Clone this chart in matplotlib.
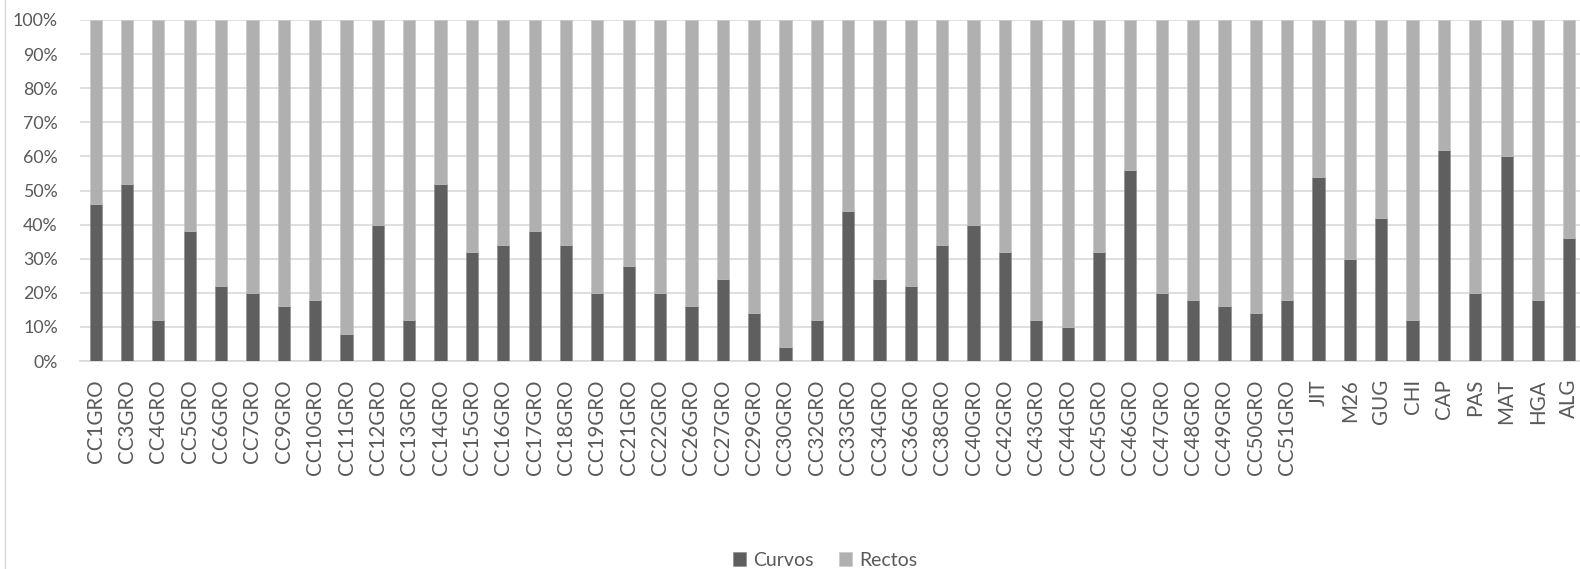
import matplotlib
matplotlib.use('Agg')

import numpy as np
import matplotlib.pyplot as plt
from matplotlib.lines import Line2D

# Categories and share of curved (Curvos) vs straight (Rectos), in percent
categories = ['CC1GRO', 'CC3GRO', 'CC4GRO', 'CC5GRO', 'CC6GRO', 'CC7GRO', 'CC9GRO',
              'CC10GRO', 'CC11GRO', 'CC12GRO', 'CC13GRO', 'CC14GRO', 'CC15GRO',
              'CC16GRO', 'CC17GRO', 'CC18GRO', 'CC19GRO', 'CC21GRO', 'CC22GRO',
              'CC26GRO', 'CC27GRO', 'CC29GRO', 'CC30GRO', 'CC32GRO', 'CC33GRO',
              'CC34GRO', 'CC36GRO', 'CC38GRO', 'CC40GRO', 'CC42GRO', 'CC43GRO',
              'CC44GRO', 'CC45GRO', 'CC46GRO', 'CC47GRO', 'CC48GRO', 'CC49GRO',
              'CC50GRO', 'CC51GRO', 'JIT', 'M26', 'GUG', 'CHI', 'CAP', 'PAS',
              'MAT', 'HGA', 'ALG']
curvos = [46, 52, 12, 38, 22, 20, 16, 18, 8, 40, 12, 52, 32, 34, 38, 34, 20, 28,
          20, 16, 24, 14, 4, 12, 44, 24, 22, 34, 40, 32, 12, 10, 32, 56, 20, 18,
          16, 14, 18, 54, 30, 42, 12, 62, 20, 60, 18, 36]
rectos = [100 - v for v in curvos]

COLOR_CURVOS = '#5f5f5f'
COLOR_RECTOS = '#b0b0b0'
COLOR_TEXT = '#595959'
COLOR_GRID = '#d9d9d9'

plt.rcParams['font.family'] = ['Lato', 'DejaVu Sans']

fig = plt.figure(figsize=(15.8, 5.69), dpi=100)
ax = fig.add_axes([80 / 1580, 1 - 361 / 569, 1505 / 1580, 341 / 569])

x = np.arange(len(categories))
width = 0.39
ax.bar(x, curvos, width, color=COLOR_CURVOS, edgecolor='#8a8a8a', linewidth=0.4,
       label='Curvos', zorder=3)
ax.bar(x, rectos, width, bottom=curvos, color=COLOR_RECTOS, edgecolor='#c4c4c4',
       linewidth=0.4, label='Rectos', zorder=3)

ax.set_xlim(-0.5, len(categories) - 0.5)
ax.set_ylim(0, 100)
ax.set_yticks(range(0, 101, 10))
ax.set_yticklabels([f'{v}%' for v in range(0, 101, 10)])
ax.set_xticks(x)
ax.set_xticklabels(categories, rotation=90)

ax.yaxis.grid(True, color=COLOR_GRID, linewidth=1.2, zorder=0)
ax.set_axisbelow(True)
for side in ['top', 'right', 'left']:
    ax.spines[side].set_visible(False)
ax.spines['bottom'].set_color(COLOR_GRID)
ax.spines['bottom'].set_linewidth(1.2)
ax.tick_params(axis='both', length=0, colors=COLOR_TEXT)
ax.tick_params(axis='x', pad=13, labelsize=14.8)
ax.tick_params(axis='y', pad=16, labelsize=12.8)

# chart area border on the left
fig.add_artist(Line2D([5 / 1580, 5 / 1580], [0, 1], color=COLOR_GRID, linewidth=1))

fig.legend(loc='center', bbox_to_anchor=(825 / 1580, 1 - 560 / 569), ncol=2,
           frameon=False, fontsize=14, labelcolor=COLOR_TEXT, handlelength=0.7,
           handleheight=0.7, handletextpad=0.35, columnspacing=1.3)

fig.savefig('out.png', dpi=100, facecolor='white')
